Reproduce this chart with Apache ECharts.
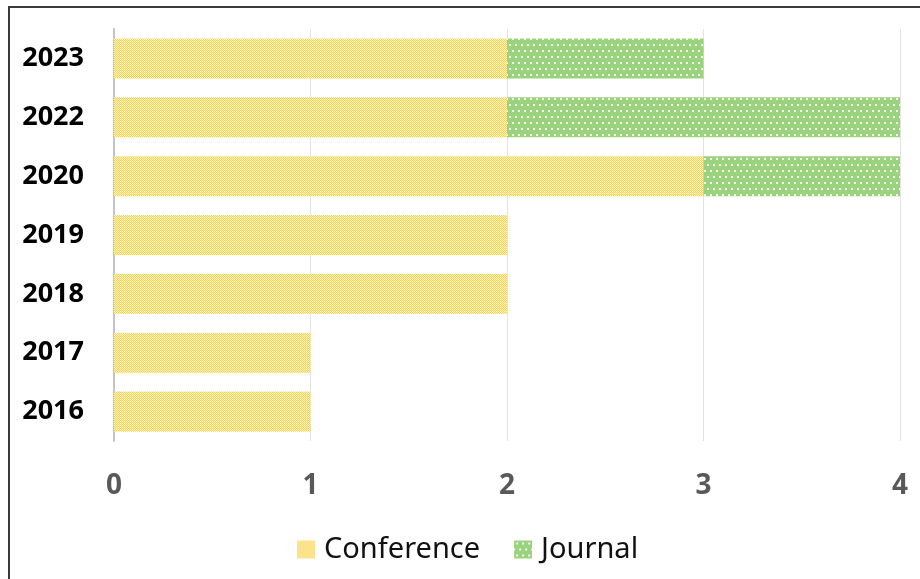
<!DOCTYPE html>
<html>
<head>
<meta charset="utf-8">
<script src="https://cdn.jsdelivr.net/npm/echarts@6/dist/echarts.min.js"></script>
<style>
  html, body { margin: 0; padding: 0; background: #fff; }
  #chart { width: 920px; height: 579px; }
</style>
</head>
<body>
<div id="chart"></div>
<script>
// bottom to top, as the category axis draws them
const years = ['2016', '2017', '2018', '2019', '2020', '2022', '2023']
const conference = [1, 1, 2, 2, 3, 2, 2]
const journal = [0, 0, 0, 0, 1, 2, 1]
const xTicks = [0, 1, 2, 3, 4]

// fine checker fill for the conference bars
function checkerPattern() {
  const c = document.createElement('canvas')
  c.width = 2
  c.height = 2
  const ctx = c.getContext('2d')
  ctx.fillStyle = '#fff5c4'
  ctx.fillRect(0, 0, 2, 2)
  ctx.fillStyle = '#f9d252'
  ctx.fillRect(0, 0, 1, 1)
  ctx.fillRect(1, 1, 1, 1)
  return c
}

// green with small white dots for the journal bars
function dotPattern() {
  const c = document.createElement('canvas')
  c.width = 12
  c.height = 12
  const ctx = c.getContext('2d')
  ctx.fillStyle = '#9bd27d'
  ctx.fillRect(0, 0, 12, 12)
  ctx.fillStyle = '#f4fbef'
  ctx.fillRect(2, 2, 2, 2)
  ctx.fillRect(8, 2, 2, 2)
  ctx.fillRect(5, 8, 2, 2)
  ctx.fillRect(11, 8, 1, 2)
  ctx.fillRect(0, 8, 1, 2)
  return c
}

const chart = echarts.init(document.getElementById('chart'))
const option = {
  animation: false,
  graphic: [
    {
      type: 'rect',
      shape: { x: 9, y: 7, width: 1000, height: 1000 },
      style: { fill: 'none', stroke: '#3a3a3a', lineWidth: 2 },
      z: 100
    }
  ],
  legend: {
    data: ['Conference', 'Journal'],
    left: 292,
    top: 530,
    itemWidth: 18,
    itemHeight: 18,
    itemGap: 34,
    icon: 'rect',
    textStyle: {
      fontFamily: 'Noto Sans',
      fontSize: 29,
      color: '#111',
      padding: [0, 0, 0, 4]
    }
  },
  grid: {
    left: 114,
    right: 20,
    top: 29,
    bottom: 138
  },
  xAxis: {
    type: 'value',
    min: xTicks[0],
    max: xTicks[xTicks.length - 1],
    interval: 1,
    axisLine: { show: false },
    axisTick: { show: false },
    splitLine: {
      lineStyle: { color: '#e3e3e3', width: 1 }
    },
    axisLabel: {
      margin: 31,
      color: '#595959',
      fontFamily: 'Open Sans',
      fontWeight: 'bold',
      fontSize: 28
    }
  },
  yAxis: {
    type: 'category',
    data: years,
    axisLine: {
      show: true,
      lineStyle: { color: '#c4c4c4', width: 2 }
    },
    axisTick: { show: false },
    axisLabel: {
      margin: 30,
      color: '#000',
      fontFamily: 'Open Sans',
      fontWeight: 'bold',
      fontSize: 27
    }
  },
  series: [
    {
      name: 'Conference',
      type: 'bar',
      stack: 'total',
      barWidth: 40,
      data: conference,
      itemStyle: {
        color: { image: checkerPattern(), repeat: 'repeat' }
      }
    },
    {
      name: 'Journal',
      type: 'bar',
      stack: 'total',
      barWidth: 40,
      data: journal,
      itemStyle: {
        color: { image: dotPattern(), repeat: 'repeat' }
      }
    }
  ]
}
chart.setOption(option)
</script>
</body>
</html>
